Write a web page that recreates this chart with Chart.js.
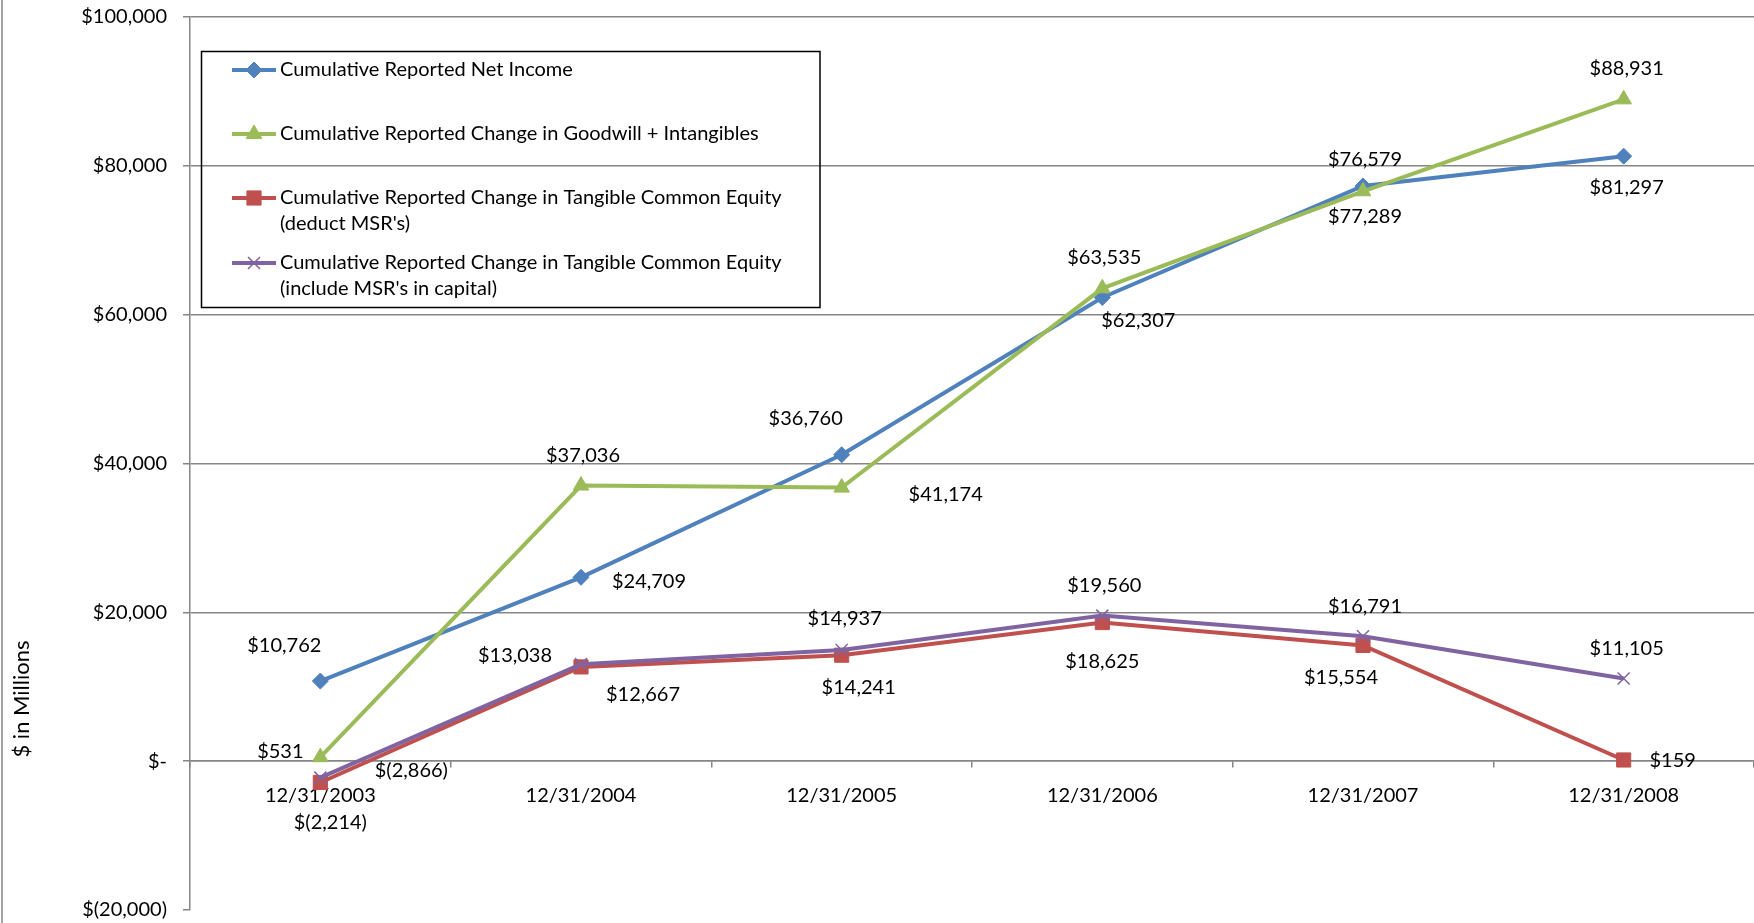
<!DOCTYPE html>
<html>
<head>
  <title>Cumulative Reported Changes</title>
  <script src="https://cdn.jsdelivr.net/npm/chart.js@4/dist/chart.umd.min.js"></script>
  <style>
    body { margin: 0; background: #fff; }
    canvas { display: block; }
  </style>
</head>
<body>
  <canvas id="chart" width="1754" height="923"></canvas>
  <script>
    const years = ['12/31/2003', '12/31/2004', '12/31/2005', '12/31/2006', '12/31/2007', '12/31/2008'];

    const netIncome = [10762, 24709, 41174, 62307, 77289, 81297];
    const goodwill = [531, 37036, 36760, 63535, 76579, 88931];
    const tceDeduct = [-2866, 12667, 14241, 18625, 15554, 159];
    const tceInclude = [-2214, 13038, 14937, 19560, 16791, 11105];

    // label text as printed next to each point in the original
    const netIncomeLabels = ['$10,762', '$24,709', '$36,760', '$62,307', '$76,579', '$81,297'];
    const goodwillLabels = ['$531', '$37,036', '$41,174', '$63,535', '$77,289', '$88,931'];
    const tceDeductLabels = ['$(2,866)', '$12,667', '$14,241', '$18,625', '$15,554', '$159'];
    const tceIncludeLabels = ['$(2,214)', '$13,038', '$14,937', '$19,560', '$16,791', '$11,105'];

    const legendNames = [
      ['Cumulative Reported Net Income'],
      ['Cumulative Reported Change in Goodwill + Intangibles'],
      ['Cumulative Reported Change in Tangible Common Equity', "(deduct MSR's)"],
      ['Cumulative Reported Change in Tangible Common Equity', "(include MSR's in capital)"]
    ];

    const yMin = -20000, yMax = 100000, yStep = 20000;

    // where each value label sits relative to its point (px)
    const labelOffsets = [
      [[-36, -36], [68, 4], [-36, -36], [36, 23], [2, -26], [3, 31]],
      [[-40, -6], [2, -30], [104, 7], [2, -31], [2, 25], [3, -31]],
      [[91, -12], [62, 28], [17, 32], [0, 39], [-22, 32], [49, 1]],
      [[10, 45], [-66, -9], [3, -31], [2, -30], [2, -30], [3, -30]]
    ];

    const FONT = 'Lato, "Open Sans", sans-serif';
    const FSIZE = 20;
    const gridGray = '#868686';

    const money = v => {
      if (v === 0) return '$-';
      const s = Math.abs(v).toLocaleString('en-US');
      return v < 0 ? '$(' + s + ')' : '$' + s;
    };

    const extras = {
      id: 'extras',
      beforeDraw(chart) {
        const ctx = chart.ctx;
        ctx.save();
        ctx.strokeStyle = gridGray;
        ctx.lineWidth = 1.5;
        ctx.beginPath();
        ctx.moveTo(2, 0);
        ctx.lineTo(2, chart.height);
        ctx.stroke();
        ctx.restore();
      },
      afterDatasetsDraw(chart) {
        const ctx = chart.ctx;
        const allLabels = [netIncomeLabels, goodwillLabels, tceDeductLabels, tceIncludeLabels];
        ctx.save();
        ctx.font = FSIZE + 'px ' + FONT;
        ctx.fillStyle = '#000';
        ctx.textAlign = 'center';
        ctx.textBaseline = 'middle';
        allLabels.forEach((arr, di) => {
          const meta = chart.getDatasetMeta(di);
          meta.data.forEach((pt, i) => {
            const off = labelOffsets[di][i];
            ctx.fillText(arr[i], pt.x + off[0], pt.y + off[1]);
          });
        });
        ctx.restore();
      },
      afterDraw(chart) {
        const ctx = chart.ctx;
        ctx.save();
        // y axis title
        ctx.font = '22px ' + FONT;
        ctx.fillStyle = '#000';
        ctx.translate(22, 699);
        ctx.rotate(-Math.PI / 2);
        ctx.textAlign = 'center';
        ctx.textBaseline = 'middle';
        ctx.fillText('$ in Millions', 0, 0);
        ctx.restore();

        // legend box
        ctx.save();
        ctx.strokeStyle = '#000';
        ctx.lineWidth = 1.5;
        ctx.strokeRect(201.5, 51.5, 618.5, 256);
        const rows = [70, 134, 198, 263];
        chart.data.datasets.forEach((ds, i) => {
          const y = rows[i];
          ctx.strokeStyle = ds.borderColor;
          ctx.lineWidth = 4;
          ctx.beginPath();
          ctx.moveTo(232, y);
          ctx.lineTo(276, y);
          ctx.stroke();
          ctx.fillStyle = ds.pointBackgroundColor;
          ctx.strokeStyle = ds.pointBorderColor;
          ctx.lineWidth = ds.pointBorderWidth;
          Chart.helpers.drawPoint(ctx, {
            pointStyle: ds.pointStyle, rotation: 0,
            radius: ds.pointRadius, borderWidth: ds.pointBorderWidth
          }, 254, y);
          ctx.fillStyle = '#000';
          ctx.font = FSIZE + 'px ' + FONT;
          ctx.textAlign = 'left';
          ctx.textBaseline = 'middle';
          legendNames[i].forEach((line, k) => ctx.fillText(line, 280, y + k * 26));
        });
        ctx.restore();
      }
    };

    const series = (label, data, color, style, radius, bw) => ({
      label: label,
      data: data,
      borderColor: color,
      backgroundColor: color,
      borderWidth: 4,
      pointStyle: style,
      pointRadius: radius,
      pointHoverRadius: radius,
      pointBackgroundColor: color,
      pointBorderColor: color,
      pointBorderWidth: bw,
      tension: 0,
      fill: false
    });

    const dsNet = series(legendNames[0].join(' '), netIncome, '#4F81BD', 'rectRot', 8, 1);
    dsNet.order = 4;
    const dsGw = series(legendNames[1].join(' '), goodwill, '#9BBB59', 'triangle', 9, 1);
    dsGw.order = 3;
    const dsDed = series(legendNames[2].join(' '), tceDeduct, '#C0504D', 'rect', 10, 1);
    dsDed.order = 2;
    const dsInc = series(legendNames[3].join(' '), tceInclude, '#8064A2', 'crossRot', 8.5, 1.5);
    dsInc.order = 1;

    new Chart(document.getElementById('chart').getContext('2d'), {
      type: 'line',
      data: {
        labels: years,
        datasets: [dsNet, dsGw, dsDed, dsInc]
      },
      options: {
        responsive: false,
        animation: false,
        layout: { autoPadding: false, padding: { top: 17, bottom: 13, left: 0, right: 0 } },
        plugins: {
          legend: { display: false },
          tooltip: { enabled: false }
        },
        scales: {
          x: {
            type: 'category',
            position: { y: 0 },
            offset: true,
            afterFit(scale) { scale.paddingLeft = 0; scale.paddingRight = 0; },
            grid: {
              offset: true,
              drawOnChartArea: false,
              drawTicks: true,
              tickLength: 6,
              color: gridGray,
              lineWidth: 1.5
            },
            border: { color: gridGray, width: 1.5 },
            ticks: {
              color: '#000',
              font: { family: FONT, size: FSIZE },
              padding: 16,
              maxRotation: 0,
              autoSkip: false
            }
          },
          y: {
            min: yMin,
            max: yMax,
            afterFit(scale) {
              scale.width = 190;
              scale.paddingTop = 0;
              scale.paddingBottom = 0;
            },
            grid: {
              color: ctx => (ctx.tick && ctx.tick.value === yMin) ? 'rgba(0,0,0,0)' : gridGray,
              tickColor: gridGray,
              lineWidth: 1.5,
              tickLength: 7
            },
            border: { color: gridGray, width: 1.5 },
            ticks: {
              stepSize: yStep,
              color: '#000',
              font: { family: FONT, size: FSIZE },
              padding: 16,
              callback: v => money(v)
            }
          }
        }
      },
      plugins: [extras]
    });
  </script>
</body>
</html>
